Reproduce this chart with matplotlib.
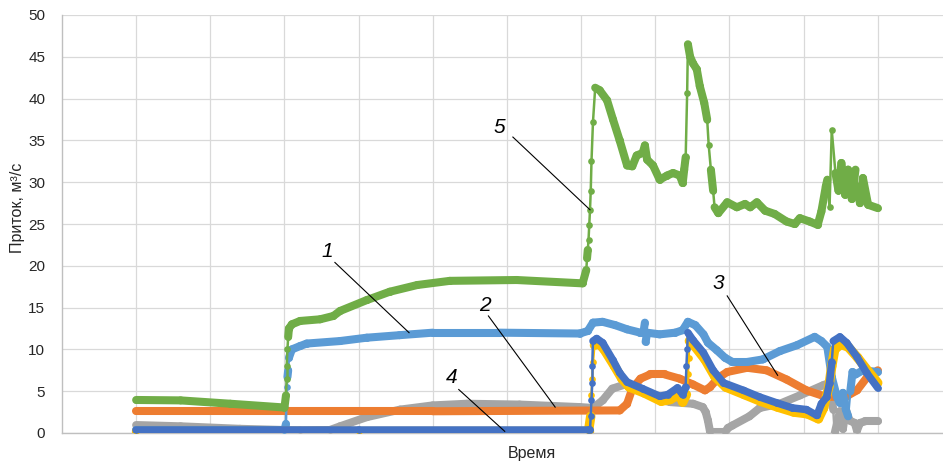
import numpy as np
import matplotlib
matplotlib.use("Agg")
import matplotlib.pyplot as plt
from matplotlib.collections import LineCollection

plt.rcParams['font.family'] = ['Liberation Sans', 'DejaVu Sans']

# приток по сериям (время в условных делениях сетки)
green_x = [0, 0.6, 1.27, 2.0, 2.02, 2.03, 2.03, 2.04, 2.05, 2.06, 2.1, 2.21, 2.48, 2.66, 2.75, 3.11, 3.42,
           3.79, 4.23, 5.13, 6.02, 6.07, 6.08, 6.09, 6.1, 6.11, 6.12, 6.13, 6.14, 6.16, 6.19, 6.25, 6.35,
           6.43, 6.52, 6.62, 6.69, 6.75, 6.83, 6.86, 6.89, 6.97, 7.06, 7.16, 7.24, 7.33, 7.37, 7.39, 7.41,
           7.43, 7.44, 7.47, 7.51, 7.56, 7.6, 7.66, 7.7, 7.72, 7.75, 7.78, 7.8, 7.85, 7.97, 8.1, 8.21,
           8.28, 8.37, 8.48, 8.61, 8.77, 8.88, 8.95, 9.08, 9.19, 9.24, 9.3, 9.32, 9.35, 9.38, 9.43, 9.47,
           9.51, 9.56, 9.6, 9.65, 9.7, 9.72, 9.76, 9.8, 9.87, 10.0]
green_y = [3.95, 3.9, 3.5, 3.05, 4.5, 6.5, 8.0, 10.0, 11.5, 12.5, 13.0, 13.4, 13.6, 14.0, 14.6, 15.9, 16.9,
           17.7, 18.2, 18.3, 17.9, 19.5, 20.9, 21.9, 23.1, 24.9, 26.7, 29.0, 32.5, 37.2, 41.3, 41.0, 39.8,
           37.5, 35.0, 32.0, 31.9, 33.2, 33.5, 34.4, 32.7, 32.0, 30.3, 30.8, 31.1, 30.8, 29.9, 31.5, 33.0,
           40.7, 46.5, 45.0, 44.2, 43.5, 41.5, 39.5, 37.5, 34.5, 31.5, 29.0, 27.0, 26.3, 27.6, 27.0, 27.4,
           27.0, 27.6, 26.6, 26.2, 25.3, 25.0, 25.7, 25.3, 24.9, 26.5, 29.5, 30.3, 27.0, 36.2, 31.1, 29.0,
           32.3, 28.5, 31.5, 28.0, 31.5, 29.5, 27.5, 30.5, 27.3, 26.9]

lblue_x = [0, 2.0, 2.02, 2.03, 2.04, 2.05, 2.06, 2.1, 2.21, 2.3, 2.75, 3.11, 3.55, 4.0, 4.9, 5.98, 6.09,
           6.16, 6.29, 6.46, 6.62, 6.8, 6.84, 6.86, 6.87, 6.89, 7.06, 7.27, 7.37, 7.44, 7.54, 7.65, 7.71,
           7.83, 7.94, 8.04, 8.24, 8.45, 8.68, 8.91, 9.15, 9.24, 9.32, 9.38, 9.45, 9.49, 9.53, 9.57, 9.6,
           9.63, 9.66, 9.7, 9.8, 10.0]
lblue_y = [0.3, 0.3, 1.1, 5.5, 6.7, 7.5, 9.0, 10.0, 10.4, 10.7, 11.0, 11.4, 11.7, 12.0, 12.0, 11.9, 12.2,
           13.2, 13.3, 12.9, 12.4, 12.0, 12.0, 13.2, 10.9, 12.0, 11.8, 12.0, 12.3, 13.3, 12.9, 11.8, 10.8,
           9.9, 9.0, 8.5, 8.5, 8.8, 9.8, 10.5, 11.5, 11.0, 10.3, 6.7, 4.3, 3.6, 4.8, 2.8, 2.0, 5.0, 7.3,
           7.0, 7.5, 7.3]

orange_x = [0, 2.0, 4.0, 6.52, 6.62, 6.69, 6.8, 6.93, 7.13, 7.33, 7.51, 7.67, 7.74, 7.85, 7.97, 8.24,
            8.5, 8.77, 9.04, 9.31, 9.58, 9.72, 9.85, 10.0]
orange_y = [2.6, 2.6, 2.6, 2.7, 3.5, 5.3, 6.5, 7.0, 7.0, 6.5, 5.8, 5.1, 5.5, 6.6, 7.3, 7.8,
            7.5, 6.4, 5.1, 4.3, 4.4, 5.1, 6.6, 7.5]

gray_x = [0, 0.6, 1.4, 2.21, 2.61, 2.75, 3.11, 3.56, 4.0, 4.46, 5.17, 5.98, 6.16, 6.29, 6.42, 6.59, 6.8,
          7.06, 7.2, 7.51, 7.64, 7.68, 7.71, 7.74, 7.94, 7.98, 8.04, 8.27, 8.41, 8.68, 8.95, 9.26, 9.35,
          9.4, 9.42, 9.49, 9.53, 9.57, 9.62, 9.69, 9.72, 9.76, 9.83, 10.0]
gray_y = [0.95, 0.8, 0.5, 0.3, 0.35, 0.8, 1.9, 2.8, 3.3, 3.5, 3.4, 3.1, 3.0, 3.9, 5.3, 5.8, 5.0,
          4.0, 3.7, 3.5, 3.1, 2.5, 1.5, 0.1, 0.1, 0.6, 0.9, 2.0, 3.0, 3.5, 4.5, 5.7, 6.0,
          2.8, 0.0, 2.6, 0.5, 2.8, 1.5, 1.2, 0.3, 1.2, 1.4, 1.4]

dblue_x = [0, 3.0, 6.09, 6.12, 6.13, 6.14, 6.15, 6.15, 6.16, 6.21, 6.29, 6.43, 6.52, 6.62, 6.83, 7.06,
           7.17, 7.3, 7.37, 7.41, 7.42, 7.43, 7.44, 7.51, 7.65, 7.78, 7.92, 8.19, 8.41, 8.64, 8.85, 9.04,
           9.18, 9.24, 9.31, 9.35, 9.38, 9.4, 9.49, 9.58, 9.72, 9.85, 10.0]
dblue_y = [0.3, 0.3, 0.3, 0.4, 2.0, 4.0, 6.0, 8.0, 11.0, 11.3, 10.8, 8.7, 7.2, 6.1, 5.3, 4.4,
           4.6, 5.4, 4.6, 5.5, 8.0, 10.0, 12.0, 11.1, 9.6, 7.5, 6.0, 5.1, 4.3, 3.6, 3.0, 2.8,
           2.1, 3.5, 4.3, 6.0, 8.5, 11.0, 11.5, 10.8, 9.1, 7.2, 5.4]

yellow_x = [0, 3.0, 6.1, 6.13, 6.14, 6.15, 6.16, 6.18, 6.24, 6.31, 6.45, 6.55, 6.65, 6.85, 7.08, 7.2,
            7.32, 7.37, 7.42, 7.44, 7.45, 7.46, 7.53, 7.67, 7.8, 7.95, 8.2, 8.42, 8.65, 8.87, 9.05, 9.2,
            9.27, 9.34, 9.38, 9.42, 9.5, 9.6, 9.73, 9.87, 10.0]
yellow_y = [0.25, 0.25, 0.25, 2.0, 4.5, 6.5, 8.5, 10.5, 10.7, 10.0, 8.0, 6.5, 5.5, 4.8, 3.8, 4.0,
            4.6, 3.7, 4.6, 7.0, 9.0, 11.0, 10.4, 8.8, 6.8, 5.5, 4.6, 3.8, 3.1, 2.5, 2.3, 1.7,
            3.0, 5.5, 8.0, 10.0, 10.6, 10.3, 9.0, 7.4, 6.0]

# цвет и толщина полосы для каждой серии
series = [
    (gray_x, gray_y, '#A5A5A5', 5.8),
    (orange_x, orange_y, '#ED7D31', 5.8),
    (lblue_x, lblue_y, '#5B9BD5', 5.8),
    (yellow_x, yellow_y, '#FFC000', 6.8),
    (dblue_x, dblue_y, '#4472C4', 5.4),
    (green_x, green_y, '#70AD47', 5.8),
]

# номера кривых и концы выносок
labels = ['1', '2', '3', '4', '5']
label_xy = [(2.58, 21.7), (4.7, 15.3), (7.85, 17.9), (4.25, 6.6), (4.9, 36.6)]
arrow_from = [(2.68, 20.4), (4.75, 14.0), (7.97, 16.4), (4.35, 5.2), (5.08, 35.4)]
arrow_to = [(3.68, 12.0), (5.65, 3.1), (8.65, 6.9), (4.97, 0.2), (6.12, 26.7)]

fig = plt.figure(figsize=(9.43, 4.66), dpi=100)
ax = fig.add_axes([62 / 943, 1 - 433 / 466, 881 / 943, 418 / 466])
ax.set_xlim(-1, 10.88)
ax.set_ylim(0, 50)
fig.canvas.draw()


def draw_series(x, y, color, width, z):
    x = np.asarray(x, float)
    y = np.asarray(y, float)
    pts = ax.transData.transform(np.column_stack([x, y]))
    d = np.diff(pts, axis=0)
    # почти вертикальные скачки - тонкая линия, остальное - плотная полоса точек
    steep = np.abs(d[:, 1]) > 8 * np.abs(d[:, 0]) + 4
    widths = np.where(steep, 1.8, width)
    segs = np.stack([np.column_stack([x[:-1], y[:-1]]),
                     np.column_stack([x[1:], y[1:]])], axis=1)
    lc = LineCollection(segs, linewidths=widths, colors=color,
                        capstyle='round', joinstyle='round', zorder=z)
    ax.add_collection(lc)
    ax.plot(x, y, 'o', ms=4.8, color=color, mew=0, zorder=z)


for i, (x, y, c, w) in enumerate(series):
    draw_series(x, y, c, w, 3 + i)

for lab, (tx, ty), (x0, y0), (x1, y1) in zip(labels, label_xy, arrow_from, arrow_to):
    ax.text(tx, ty, lab, fontsize=15, style='italic', ha='center', va='center', zorder=20)
    ax.plot([x0, x1], [y0, y1], color='black', lw=0.8, zorder=20)

ax.set_yticks(np.arange(0, 51, 5))
ax.set_xticks(np.arange(0, 11))
ax.set_xticklabels([])
ax.tick_params(axis='both', length=0, labelsize=11, colors='#262626')
ax.tick_params(axis='y', pad=12)
ax.grid(True, color='#D9D9D9', lw=0.9, zorder=0)
ax.set_axisbelow(True)
for s in ['top', 'right']:
    ax.spines[s].set_visible(False)
for s in ['left', 'bottom']:
    ax.spines[s].set_color('#BFBFBF')
    ax.spines[s].set_linewidth(1.0)

ax.set_ylabel('Приток, м³/с', fontsize=11.5, color='#262626', va='center')
ax.yaxis.set_label_coords(-(62 - 18) / 881, (433 - 208) / 418)
ax.set_xlabel('Время', fontsize=11.5, color='#262626')
ax.xaxis.set_label_coords((532 - 62) / 881, -0.03)

fig.savefig('out.png', dpi=100)
